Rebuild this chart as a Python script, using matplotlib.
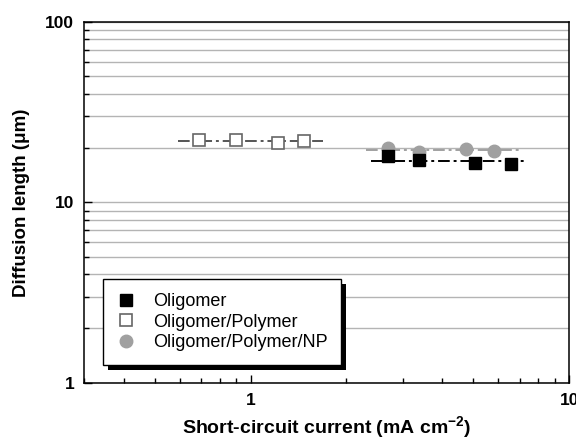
import matplotlib
matplotlib.use("Agg")
import matplotlib.pyplot as plt
from matplotlib.patches import Rectangle
from matplotlib.transforms import IdentityTransform
from matplotlib.ticker import LogLocator, NullFormatter, FixedLocator

plt.rcParams['font.family'] = ['Liberation Sans', 'DejaVu Sans']
plt.rcParams['mathtext.fontset'] = 'custom'
plt.rcParams['mathtext.rm'] = 'Liberation Sans:bold'
plt.rcParams['mathtext.it'] = 'Liberation Sans:bold'
plt.rcParams['mathtext.bf'] = 'Liberation Sans:bold'

# data
oligo_x = [2.70, 3.37, 5.07, 6.56]
oligo_y = [18.1, 17.1, 16.6, 16.3]
poly_x = [0.69, 0.90, 1.22, 1.47]
poly_y = [22.3, 22.3, 21.2, 21.8]
np_x = [2.70, 3.37, 4.75, 5.81]
np_y = [19.9, 19.0, 19.7, 19.3]

# average lines (x extent, level)
oligo_fit_x = [2.38, 7.33]
oligo_fit_y = [16.9, 16.9]
poly_fit_x = [0.59, 1.69]
poly_fit_y = [21.9, 21.9]
np_fit_x = [2.30, 7.00]
np_fit_y = [19.4, 19.4]

labels = ['Oligomer', 'Oligomer/Polymer', 'Oligomer/Polymer/NP']

fig = plt.figure(figsize=(5.76, 4.38), dpi=100)
ax = fig.add_axes([0.146, 0.126, 0.842, 0.824])

ax.set_xscale('log')
ax.set_yscale('log')
ax.set_xlim(0.3, 10)
ax.set_ylim(1, 100)

# horizontal grid (major + minor)
ax.yaxis.set_minor_locator(LogLocator(base=10, subs=range(2, 10)))
ax.yaxis.set_minor_formatter(NullFormatter())
ax.grid(axis='y', which='both', color='#b4b4b4', lw=1.0, zorder=0)
ax.set_axisbelow(True)

dash = (0, (6, 2, 1.5, 2))
ax.plot(poly_fit_x, poly_fit_y, color='#555555', lw=1.4, ls=dash, zorder=2)
ax.plot(np_fit_x, np_fit_y, color='#a0a0a0', lw=1.4, ls=dash, zorder=2)
ax.plot(oligo_fit_x, oligo_fit_y, color='black', lw=1.4, ls=dash, zorder=2)

ax.plot(np_x, np_y, 'o', ms=9, color='#a0a0a0', mec='#a0a0a0', ls='none',
        label=labels[2], zorder=3)
ax.plot(oligo_x, oligo_y, 's', ms=8.5, color='black', ls='none',
        label=labels[0], zorder=4)
ax.plot(poly_x, poly_y, 's', ms=8.5, mfc='white', mec='#666666', mew=1.2,
        ls='none', label=labels[1], zorder=4)

ax.xaxis.set_major_locator(FixedLocator([1, 10]))
ax.set_xticklabels(['1', '10'])
ax.xaxis.set_minor_locator(LogLocator(base=10, subs=range(2, 10)))
ax.xaxis.set_minor_formatter(NullFormatter())
ax.yaxis.set_major_locator(FixedLocator([1, 10, 100]))
ax.set_yticklabels(['1', '10', '100'])

ax.tick_params(axis='both', which='major', direction='in', length=6,
               width=1, labelsize=12.5, pad=7)
ax.tick_params(axis='both', which='minor', direction='in', length=3.5, width=1)
for t in ax.get_xticklabels() + ax.get_yticklabels():
    t.set_fontweight('bold')
for s in ax.spines.values():
    s.set_linewidth(1.1)

ax.set_xlabel(r'Short-circuit current (mA cm$^{-2}$)', fontsize=14,
              fontweight='bold', labelpad=5)
ax.set_ylabel('Diffusion length (\u03bcm)', fontsize=13.5, fontweight='bold',
              labelpad=11)

handles, labs = ax.get_legend_handles_labels()
order = [labs.index(l) for l in labels]
leg = ax.legend([handles[i] for i in order], labels, loc='lower left',
                bbox_to_anchor=(0.039, 0.05), borderaxespad=0, fontsize=13,
                fancybox=False, framealpha=1, edgecolor='black',
                handlelength=1.0, handletextpad=1.0, labelspacing=0.2,
                borderpad=0.75)
leg.get_frame().set_linewidth(1.0)

# solid black drop shadow behind the legend
fig.canvas.draw()
bb = leg.get_window_extent()
off = 5
shadow = Rectangle((bb.x0 + off, bb.y0 - off), bb.width, bb.height,
                   transform=IdentityTransform(), facecolor='black',
                   edgecolor='none', zorder=4.9, clip_on=False)
ax.add_patch(shadow)

fig.savefig('out.png', dpi=100)
